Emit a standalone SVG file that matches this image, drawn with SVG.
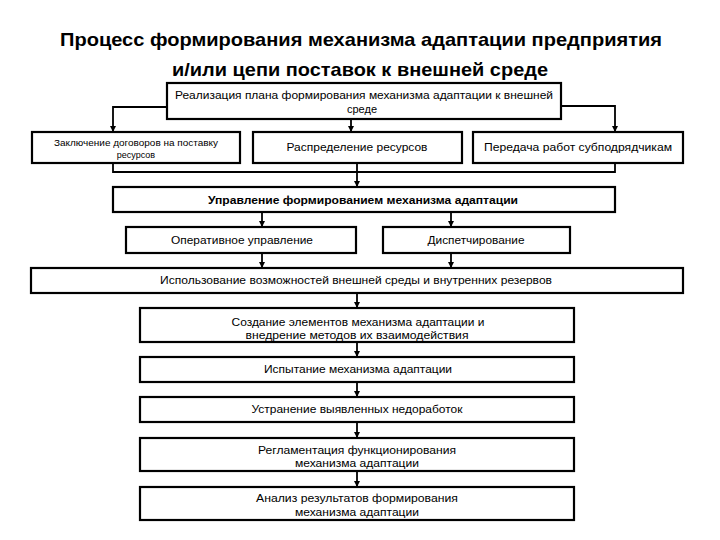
<svg xmlns="http://www.w3.org/2000/svg" width="720" height="540" viewBox="0 0 720 540">
<defs>
<marker id="ah" viewBox="0 0 10 10" refX="10" refY="5" markerWidth="6" markerHeight="6" markerUnits="userSpaceOnUse" orient="auto">
<path d="M0,0 L10,5 L0,10 Z" fill="#000"/>
</marker>
<style>
.box{fill:#fff;stroke:#000;stroke-width:2.2}
.t{font-family:"Liberation Sans",Arial,sans-serif;font-size:11px;fill:#000;text-anchor:middle}
.s{font-size:9px}
.b{font-weight:bold}
.title{font-family:"Liberation Sans",Arial,sans-serif;font-size:19px;font-weight:bold;fill:#000;text-anchor:middle}
.c{fill:none;stroke:#000;stroke-width:1.8}
.a{marker-end:url(#ah)}
</style>
</defs>
<rect width="720" height="540" fill="#fff"/>
<g id="title">
<text class="title" x="361" y="46" textLength="602" lengthAdjust="spacingAndGlyphs">Процесс формирования механизма адаптации предприятия</text>
<text class="title" x="360" y="76" textLength="376" lengthAdjust="spacingAndGlyphs">и/или цепи поставок к внешней среде</text>
</g>
<g id="connectors">
<path class="c a" d="M167,107 H113 V132"/>
<path class="c a" d="M351,119 V132"/>
<path class="c a" d="M561,106 H615 V132"/>
<path class="c" d="M113,163 V172 H615 V163"/>
<path class="c" d="M357,163 V172"/>
<path class="c a" d="M357,172 V187"/>
<path class="c a" d="M262,212 V227"/>
<path class="c a" d="M451,212 V227"/>
<path class="c a" d="M262,253 V268"/>
<path class="c a" d="M451,253 V268"/>
<path class="c a" d="M357,293 V308"/>
<path class="c a" d="M357,342 V357"/>
<path class="c a" d="M357,382 V397"/>
<path class="c a" d="M357,422 V438"/>
<path class="c a" d="M357,471 V487"/>
</g>
<g id="n1">
<rect class="box" x="167" y="83" width="394" height="36"/>
<text class="t" x="364" y="99" textLength="378" lengthAdjust="spacingAndGlyphs">Реализация плана формирования механизма адаптации к внешней</text>
<text class="t" x="362" y="113">среде</text>
</g>
<g id="n2">
<rect class="box" x="32" y="132" width="208" height="31"/>
<text class="t s" x="136" y="146" textLength="164" lengthAdjust="spacingAndGlyphs">Заключение договоров на поставку</text>
<text class="t s" x="136" y="158">ресурсов</text>
</g>
<g id="n3">
<rect class="box" x="253" y="132" width="209" height="31"/>
<text class="t" x="357" y="151" textLength="141" lengthAdjust="spacingAndGlyphs">Распределение ресурсов</text>
</g>
<g id="n4">
<rect class="box" x="473" y="132" width="210" height="31"/>
<text class="t" x="578" y="151" textLength="188" lengthAdjust="spacingAndGlyphs">Передача работ субподрядчикам</text>
</g>
<g id="n5">
<rect class="box" x="113" y="187" width="502" height="25"/>
<text class="t b" x="363" y="204" textLength="310" lengthAdjust="spacingAndGlyphs">Управление формированием механизма адаптации</text>
</g>
<g id="n6">
<rect class="box" x="126" y="227" width="230" height="26"/>
<text class="t" x="242" y="244" textLength="142" lengthAdjust="spacingAndGlyphs">Оперативное управление</text>
</g>
<g id="n7">
<rect class="box" x="383" y="227" width="187" height="26"/>
<text class="t" x="476" y="244" textLength="97" lengthAdjust="spacingAndGlyphs">Диспетчирование</text>
</g>
<g id="n8">
<rect class="box" x="31" y="268" width="652" height="25"/>
<text class="t" x="356" y="284" textLength="392" lengthAdjust="spacingAndGlyphs">Использование возможностей внешней среды и внутренних резервов</text>
</g>
<g id="n9">
<rect class="box" x="140" y="308" width="434" height="34"/>
<text class="t" x="358" y="326" textLength="253" lengthAdjust="spacingAndGlyphs">Создание элементов механизма адаптации и</text>
<text class="t" x="357" y="339" textLength="223" lengthAdjust="spacingAndGlyphs">внедрение методов их взаимодействия</text>
</g>
<g id="n10">
<rect class="box" x="140" y="357" width="434" height="25"/>
<text class="t" x="358" y="373" textLength="188" lengthAdjust="spacingAndGlyphs">Испытание механизма адаптации</text>
</g>
<g id="n11">
<rect class="box" x="140" y="397" width="434" height="25"/>
<text class="t" x="357" y="413" textLength="211" lengthAdjust="spacingAndGlyphs">Устранение выявленных недоработок</text>
</g>
<g id="n12">
<rect class="box" x="140" y="438" width="434" height="33"/>
<text class="t" x="357" y="454" textLength="198" lengthAdjust="spacingAndGlyphs">Регламентация функционирования</text>
<text class="t" x="357" y="467" textLength="124" lengthAdjust="spacingAndGlyphs">механизма адаптации</text>
</g>
<g id="n13">
<rect class="box" x="140" y="487" width="434" height="33"/>
<text class="t" x="357" y="502" textLength="202" lengthAdjust="spacingAndGlyphs">Анализ результатов формирования</text>
<text class="t" x="357" y="516" textLength="124" lengthAdjust="spacingAndGlyphs">механизма адаптации</text>
</g>
</svg>
